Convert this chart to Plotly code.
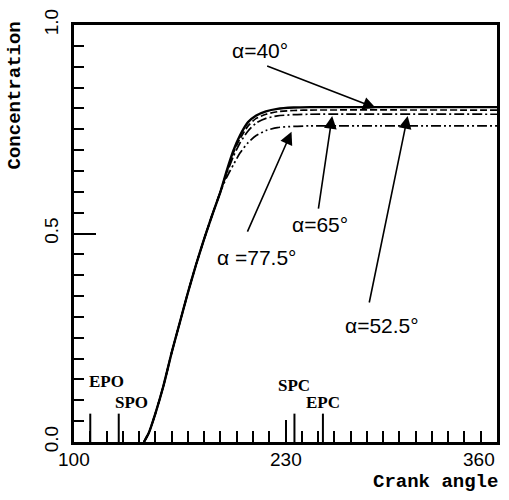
import plotly.graph_objects as go

# ---- data ----
angle_common = [143, 146, 150, 155, 160, 165, 170, 175, 180, 185, 190]
conc_common = [0.0, 0.022, 0.068, 0.135, 0.214, 0.286, 0.358, 0.425, 0.487, 0.545, 0.600]

angle_knee = [194, 198, 202, 207, 212, 218, 225, 235, 245, 360]
conc_a40 = [0.652, 0.699, 0.735, 0.767, 0.783, 0.793, 0.799, 0.802, 0.803, 0.803]
conc_a52 = [0.649, 0.694, 0.727, 0.758, 0.776, 0.786, 0.792, 0.795, 0.796, 0.796]
conc_a65 = [0.645, 0.685, 0.717, 0.746, 0.765, 0.776, 0.782, 0.785, 0.786, 0.786]
conc_a77 = [0.636, 0.665, 0.693, 0.718, 0.735, 0.747, 0.754, 0.757, 0.758, 0.758]

series_names = ["α=40°", "α=52.5°", "α=65°", "α =77.5°"]
series_conc = [conc_a40, conc_a52, conc_a65, conc_a77]
series_dash = ["solid", "7px,3px", "10px,3px,2px,3px", "10px,3px,2px,3px,2px,3px"]
series_width = [2.4, 1.7, 1.7, 1.7]

# label position (angle, conc), arrow tail (angle, conc), arrow tip (angle, conc)
label_pos = [(214.1, 0.939), (289.2, 0.279), (251.4, 0.522), (212.3, 0.442)]
arrow_tail = [(217.8, 0.903), (281.3, 0.331), (250.1, 0.556), (206.2, 0.501)]
arrow_tip = [(285.5, 0.801), (305.1, 0.782), (258.7, 0.782), (233.7, 0.744)]

valve_events = ["EPO", "SPO", "SPC", "EPC"]
valve_angles = [110, 127.5, 235.5, 253]
valve_label_conc = [0.145, 0.095, 0.135, 0.095]
valve_label_shift = [16, 13, 0, 0]

x_tickvals = [100, 230, 360]
x_ticktext = ["100", "230", "360"]
x_label_anchor = ["center", "center", "right"]
y_tickvals = [0.0, 0.5, 1.0]
y_ticktext = ["0.0", "0.5", "1.0"]

fig = go.Figure()
for name, conc, dash, w in zip(series_names, series_conc, series_dash, series_width):
    fig.add_trace(go.Scatter(
        x=angle_common + angle_knee, y=conc_common + conc,
        mode="lines", name=name, line=dict(color="black", width=w, dash=dash,
                                           shape="spline", smoothing=0.6),
        showlegend=False))

marker_len = 0.068
for ang in valve_angles:
    fig.add_shape(type="line", xref="x", yref="y", x0=ang, x1=ang, y0=0, y1=marker_len,
                  line=dict(color="black", width=2))

for ev, ang, yc, sh in zip(valve_events, valve_angles, valve_label_conc, valve_label_shift):
    fig.add_annotation(x=ang, y=yc, text=ev, showarrow=False, xshift=sh,
                       xanchor="center", yanchor="middle",
                       font=dict(family="Liberation Serif", size=17, color="black",
                                 weight="bold"))

for name, lp, tl, tp in zip(series_names, label_pos, arrow_tail, arrow_tip):
    fig.add_annotation(x=lp[0], y=lp[1], text=name, showarrow=False,
                       xanchor="center", yanchor="middle",
                       font=dict(family="Liberation Sans", size=21, color="black"))
    fig.add_annotation(x=tp[0], y=tp[1], ax=tl[0], ay=tl[1], axref="x", ayref="y",
                       xref="x", yref="y", text="", showarrow=True, arrowhead=2,
                       arrowsize=1.6, arrowwidth=1.6, arrowcolor="black", standoff=0)

# x tick labels
for tv, tt, anc in zip(x_tickvals, x_ticktext, x_label_anchor):
    fig.add_annotation(x=tv, y=0, xref="x", yref="y", text=tt, showarrow=False,
                       xanchor=anc, yanchor="middle", yshift=-17,
                       font=dict(family="Liberation Sans", size=19, color="black"))

fig.add_annotation(xref="paper", yref="paper", x=-0.1385, y=0.832, text="Concentration",
                   textangle=-90, showarrow=False, xanchor="center", yanchor="middle",
                   font=dict(family="Liberation Mono", size=19, color="black", weight="bold"))
fig.add_annotation(xref="paper", yref="paper", x=0.854, y=-0.095, text="Crank angle",
                   showarrow=False, xanchor="center", yanchor="middle",
                   font=dict(family="Liberation Mono", size=19, color="black", weight="bold"))

fig.update_xaxes(range=[100, 360], tickvals=x_tickvals, showticklabels=False,
                 ticks="inside", ticklen=22,
                 tickwidth=2, tickcolor="black", showline=True, linewidth=2.5,
                 linecolor="black", mirror=True, showgrid=False, zeroline=False,
                 minor=dict(dtick=10, tick0=100, ticks="inside", ticklen=11,
                            tickwidth=2, tickcolor="black", showgrid=False))
fig.update_yaxes(range=[0, 1], tickvals=y_tickvals, ticktext=y_ticktext, ticks="inside",
                 ticklen=22, tickwidth=2, tickcolor="black", showline=True, linewidth=2.5,
                 linecolor="black", mirror=True, showgrid=False, zeroline=False,
                 tickangle=-90, ticklabelstandoff=6,
                 tickfont=dict(family="Liberation Sans", size=19, color="black"),
                 minor=dict(dtick=0.05, tick0=0, ticks="inside", ticklen=10,
                            tickwidth=2, tickcolor="black", showgrid=False))

fig.update_layout(width=509, height=500, margin=dict(l=74, r=9, t=19, b=58),
                  paper_bgcolor="white", plot_bgcolor="white")
fig.write_html("out.html")
